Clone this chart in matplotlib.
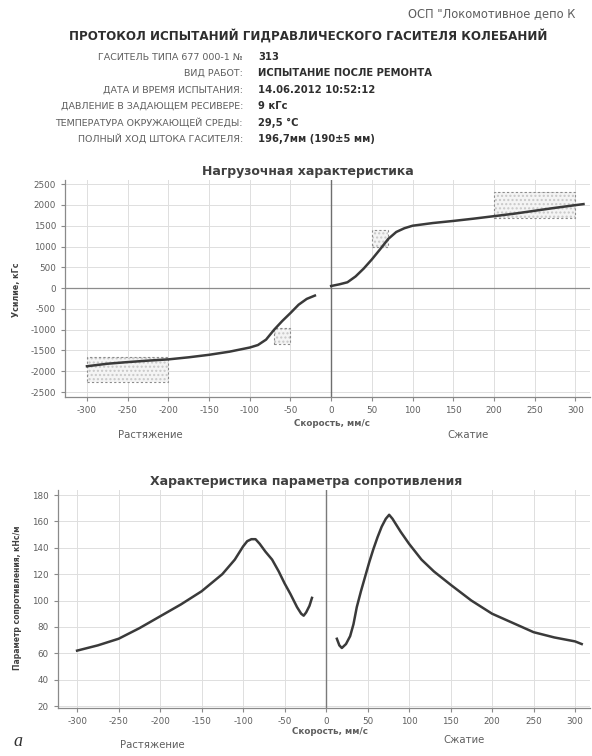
import matplotlib
matplotlib.use("Agg")
import matplotlib.pyplot as plt
from matplotlib.patches import Rectangle

plt.rcParams['font.family'] = ['DejaVu Sans']
plt.rcParams['axes.unicode_minus'] = False

# ---------------- data ----------------
# Load characteristic (force vs speed)
load_x_neg = [-300, -275, -250, -225, -200, -175, -150, -125, -100, -90, -80, -70, -60, -50, -40, -30, -20]
load_y_neg = [-1880, -1820, -1780, -1745, -1715, -1665, -1605, -1530, -1430, -1370, -1240, -1000, -790, -600, -400, -260, -180]
load_x_pos = [0, 10, 20, 30, 40, 50, 60, 70, 80, 90, 100, 125, 150, 175, 200, 225, 250, 275, 300, 310]
load_y_pos = [50, 90, 140, 280, 470, 690, 930, 1180, 1350, 1440, 1500, 1565, 1615, 1670, 1730, 1790, 1860, 1930, 1995, 2020]

# tolerance boxes: (x0, x1, y0, y1)
tol_boxes = [(-300, -200, -2250, -1650), (200, 300, 1680, 2300), (-70, -50, -1350, -950), (50, 70, 1000, 1400)]

# Resistance parameter vs speed
res_x_neg = [-300, -275, -250, -225, -200, -175, -150, -125, -110, -100, -95, -90, -85, -80, -73, -65, -57, -50, -43, -35, -30, -27, -24, -20, -17]
res_y_neg = [62, 66, 71, 79, 88, 97, 107, 120, 131, 141, 145, 146.5, 146.5, 143, 137, 131, 122, 113, 105, 95, 90, 88.5, 91, 96, 102]
res_x_pos = [13, 16, 19, 24, 29, 33, 37, 42, 47, 52, 57, 62, 67, 72, 76, 80, 90, 100, 115, 130, 150, 175, 200, 225, 250, 275, 300, 308]
res_y_pos = [71, 66, 64, 67, 73, 82, 95, 107, 118, 129, 139, 148, 156, 162, 165, 162, 152, 143, 131, 122, 112, 100, 90, 83, 76, 72, 69, 67]

x_ticks = [-300, -250, -200, -150, -100, -50, 0, 50, 100, 150, 200, 250, 300]
load_ticks = [-2500, -2000, -1500, -1000, -500, 0, 500, 1000, 1500, 2000, 2500]
res_ticks = [20, 40, 60, 80, 100, 120, 140, 160, 180]

header_labels = ["ГАСИТЕЛЬ ТИПА 677 000-1 №", "ВИД РАБОТ:", "ДАТА И ВРЕМЯ ИСПЫТАНИЯ:",
                 "ДАВЛЕНИЕ В ЗАДАЮЩЕМ РЕСИВЕРЕ:", "ТЕМПЕРАТУРА ОКРУЖАЮЩЕЙ СРЕДЫ:", "ПОЛНЫЙ ХОД ШТОКА ГАСИТЕЛЯ:"]
header_values = ["313", "ИСПЫТАНИЕ ПОСЛЕ РЕМОНТА", "14.06.2012 10:52:12", "9 кГс", "29,5 °С", "196,7мм (190±5 мм)"]

# ---------------- figure ----------------
W, H = 592, 756
fig = plt.figure(figsize=(W / 100, H / 100), dpi=100)
fig.patch.set_facecolor('white')

def fx(x):
    return x / W

def fy(y):
    return 1 - y / H

txt_col = '#5e5e5e'
dark = '#2e2e2e'
line_col = '#3a3a3a'
grid_col = '#dedede'

fig.text(fx(408), fy(14), 'ОСП "Локомотивное депо К', fontsize=8.3, color=txt_col, va='center', ha='left')
fig.text(fx(308), fy(36), 'ПРОТОКОЛ ИСПЫТАНИЙ ГИДРАВЛИЧЕСКОГО ГАСИТЕЛЯ КОЛЕБАНИЙ', fontsize=8.6,
         fontweight='bold', color=dark, ha='center', va='center')
for i, (lab, val) in enumerate(zip(header_labels, header_values)):
    yy = 57 + i * 16.4
    fig.text(fx(243), fy(yy), lab, fontsize=6.8, color=txt_col, ha='right', va='center')
    fig.text(fx(258), fy(yy), val, fontsize=7.2, fontweight='bold', color=dark, ha='left', va='center')


def style_axes(ax):
    for s in ['top', 'right']:
        ax.spines[s].set_visible(False)
    for s in ['left', 'bottom']:
        ax.spines[s].set_color('#8a8a8a')
        ax.spines[s].set_linewidth(0.9)
    ax.tick_params(axis='both', labelsize=6.3, colors='#8a8a8a', labelcolor=txt_col, length=3, width=0.8)
    ax.grid(True, color=grid_col, linewidth=0.7)
    ax.set_axisbelow(True)


# ---- top chart ----
ax1 = fig.add_axes([fx(65), fy(397), fx(590) - fx(65), (397 - 180) / H])
style_axes(ax1)
ax1.set_xlim(-327, 318)
ax1.set_ylim(-2620, 2600)
ax1.set_xticks(x_ticks)
ax1.set_yticks(load_ticks)
ax1.axhline(0, color='#8c8c8c', linewidth=0.9)
ax1.axvline(0, color='#6e6e6e', linewidth=1.0)
for (x0, x1, y0, y1) in tol_boxes:
    ax1.add_patch(Rectangle((x0, y0), x1 - x0, y1 - y0, facecolor='#f4f4f4', edgecolor='#c8c8c8',
                            hatch='....', linewidth=0, zorder=1))
    ax1.add_patch(Rectangle((x0, y0), x1 - x0, y1 - y0, facecolor='none', edgecolor='#8c8c8c',
                            linestyle=(0, (2, 2)), linewidth=0.8, zorder=2))
ax1.plot(load_x_neg, load_y_neg, color=line_col, linewidth=1.8, zorder=3)
ax1.plot(load_x_pos, load_y_pos, color=line_col, linewidth=1.8, zorder=3)
fig.text(fx(308), fy(171), 'Нагрузочная характеристика', fontsize=9, fontweight='bold', color='#404040',
         ha='center', va='center')
fig.text(fx(17), fy(290), 'Усилие, кГс', fontsize=5.8, fontweight='bold', color='#404040',
         rotation=90, ha='center', va='center')
fig.text(fx(332), fy(423), 'Скорость, мм/с', fontsize=6.3, fontweight='bold', color=txt_col, ha='center', va='center')
fig.text(fx(150), fy(435), 'Растяжение', fontsize=7.3, color=txt_col, ha='center', va='center')
fig.text(fx(468), fy(435), 'Сжатие', fontsize=7.3, color=txt_col, ha='center', va='center')

# ---- bottom chart ----
ax2 = fig.add_axes([fx(58), fy(708), fx(590) - fx(58), (708 - 490) / H])
style_axes(ax2)
ax2.set_xlim(-323, 318)
ax2.set_ylim(18.5, 183.8)
ax2.set_xticks(x_ticks)
ax2.set_yticks(res_ticks)
ax2.axvline(0, color='#7a7a7a', linewidth=1.0)
ax2.plot(res_x_neg, res_y_neg, color=line_col, linewidth=1.8, zorder=3)
ax2.plot(res_x_pos, res_y_pos, color=line_col, linewidth=1.8, zorder=3)
fig.text(fx(306), fy(482), 'Характеристика параметра сопротивления', fontsize=9, fontweight='bold', color='#404040',
         ha='center', va='center')
fig.text(fx(18), fy(598), 'Параметр сопротивления, кНс/м', fontsize=5.5, fontweight='bold', color='#404040',
         rotation=90, ha='center', va='center')
fig.text(fx(330), fy(731), 'Скорость, мм/с', fontsize=6.3, fontweight='bold', color=txt_col, ha='center', va='center')
fig.text(fx(152), fy(745), 'Растяжение', fontsize=7.3, color=txt_col, ha='center', va='center')
fig.text(fx(464), fy(740), 'Сжатие', fontsize=7.3, color=txt_col, ha='center', va='center')
fig.text(fx(18), fy(742), 'а', fontsize=13, fontstyle='italic', family=['Liberation Serif', 'DejaVu Serif'],
         color='#303030', ha='center', va='center')

fig.savefig('out.png', dpi=100, facecolor='white')
